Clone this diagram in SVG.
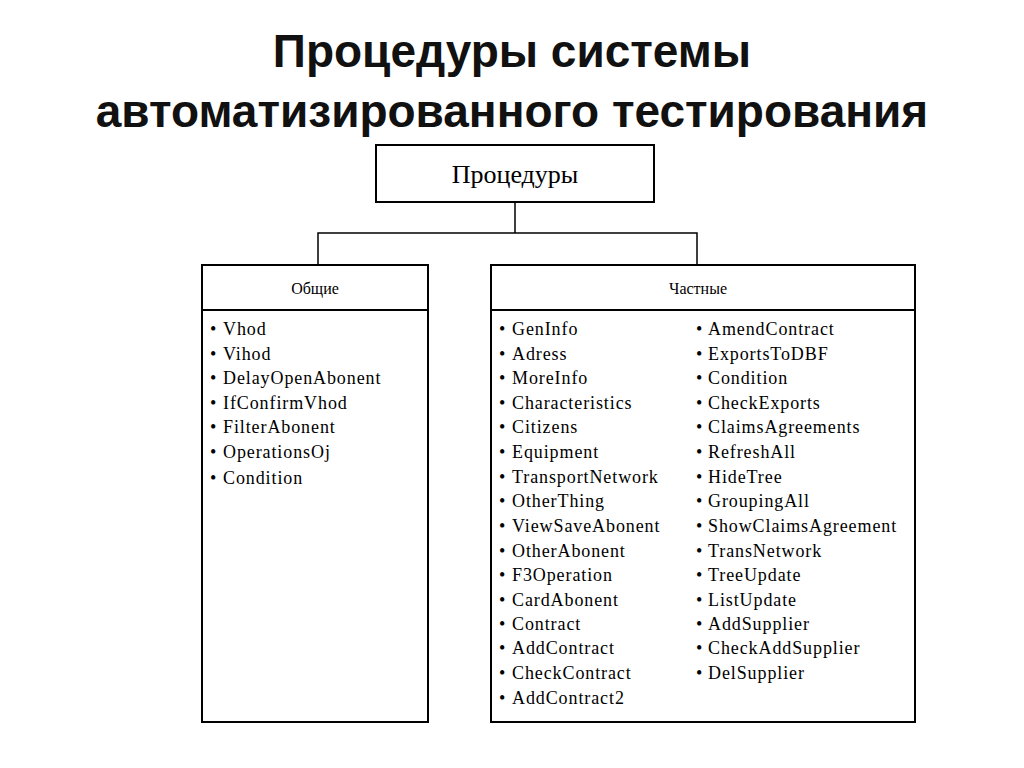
<svg xmlns="http://www.w3.org/2000/svg" width="1024" height="768" viewBox="0 0 1024 768">
<style>
.box{fill:#fff;stroke:#000;stroke-width:2}
.t{font-family:"Liberation Serif",serif;font-size:18px;letter-spacing:0.9px;fill:#000}
.h{font-family:"Liberation Serif",serif;font-size:16px;text-anchor:middle}
.title{font-family:"Liberation Sans",Arial,sans-serif;font-weight:bold;font-size:46px;text-anchor:middle;fill:#111}
</style>
<rect width="1024" height="768" fill="#fff"/>
<text class="title" x="512" y="67">Процедуры системы</text>
<text class="title" x="512" y="127">автоматизированного тестирования</text>
<g id="connectors" stroke="#000" stroke-width="1.5" fill="none">
<path d="M515 202V233M318 265V233H697V265"/>
</g>
<g id="root"><rect class="box" x="376" y="145" width="278" height="57"/><text x="515" y="183" class="h" style="font-size:26px">Процедуры</text></g>
<g id="common"><rect class="box" x="202" y="265" width="226" height="457"/><line x1="202" y1="310" x2="428" y2="310" stroke="#000" stroke-width="2"/><text x="315" y="294" class="h">Общие</text>
<g class="t"><text x="210" y="335">•</text><text x="210" y="360">•</text><text x="210" y="384">•</text><text x="210" y="409">•</text><text x="210" y="433">•</text><text x="210" y="458">•</text><text x="210" y="484">•</text></g>
<text class="t" x="223" y="335">Vhod</text>
<text class="t" x="223" y="360">Vihod</text>
<text class="t" x="223" y="384">DelayOpenAbonent</text>
<text class="t" x="223" y="409">IfConfirmVhod</text>
<text class="t" x="223" y="433">FilterAbonent</text>
<text class="t" x="223" y="458">OperationsOj</text>
<text class="t" x="223" y="484">Condition</text>
</g>
<g id="private"><rect class="box" x="491" y="265" width="424" height="457"/><line x1="491" y1="310" x2="915" y2="310" stroke="#000" stroke-width="2"/><text x="698" y="294" class="h">Частные</text>
<g class="t"><text x="499" y="335">•</text><text x="499" y="360">•</text><text x="499" y="384">•</text><text x="499" y="409">•</text><text x="499" y="433">•</text><text x="499" y="458">•</text><text x="499" y="483">•</text><text x="499" y="507">•</text><text x="499" y="532">•</text><text x="499" y="557">•</text><text x="499" y="581">•</text><text x="499" y="606">•</text><text x="499" y="630">•</text><text x="499" y="654">•</text><text x="499" y="679">•</text><text x="499" y="704">•</text>
<text x="696" y="335">•</text><text x="696" y="360">•</text><text x="696" y="384">•</text><text x="696" y="409">•</text><text x="696" y="433">•</text><text x="696" y="458">•</text><text x="696" y="483">•</text><text x="696" y="507">•</text><text x="696" y="532">•</text><text x="696" y="557">•</text><text x="696" y="581">•</text><text x="696" y="606">•</text><text x="696" y="630">•</text><text x="696" y="654">•</text><text x="696" y="679">•</text></g>
<text class="t" x="512" y="335">GenInfo</text>
<text class="t" x="512" y="360">Adress</text>
<text class="t" x="512" y="384">MoreInfo</text>
<text class="t" x="512" y="409">Characteristics</text>
<text class="t" x="512" y="433">Citizens</text>
<text class="t" x="512" y="458">Equipment</text>
<text class="t" x="512" y="483">TransportNetwork</text>
<text class="t" x="512" y="507">OtherThing</text>
<text class="t" x="512" y="532">ViewSaveAbonent</text>
<text class="t" x="512" y="557">OtherAbonent</text>
<text class="t" x="512" y="581">F3Operation</text>
<text class="t" x="512" y="606">CardAbonent</text>
<text class="t" x="512" y="630">Contract</text>
<text class="t" x="512" y="654">AddContract</text>
<text class="t" x="512" y="679">CheckContract</text>
<text class="t" x="512" y="704">AddContract2</text>
<text class="t" x="708" y="335">AmendContract</text>
<text class="t" x="708" y="360">ExportsToDBF</text>
<text class="t" x="708" y="384">Condition</text>
<text class="t" x="708" y="409">CheckExports</text>
<text class="t" x="708" y="433">ClaimsAgreements</text>
<text class="t" x="708" y="458">RefreshAll</text>
<text class="t" x="708" y="483">HideTree</text>
<text class="t" x="708" y="507">GroupingAll</text>
<text class="t" x="708" y="532">ShowClaimsAgreement</text>
<text class="t" x="708" y="557">TransNetwork</text>
<text class="t" x="708" y="581">TreeUpdate</text>
<text class="t" x="708" y="606">ListUpdate</text>
<text class="t" x="708" y="630">AddSupplier</text>
<text class="t" x="708" y="654">CheckAddSupplier</text>
<text class="t" x="708" y="679">DelSupplier</text>
</g>
</svg>
